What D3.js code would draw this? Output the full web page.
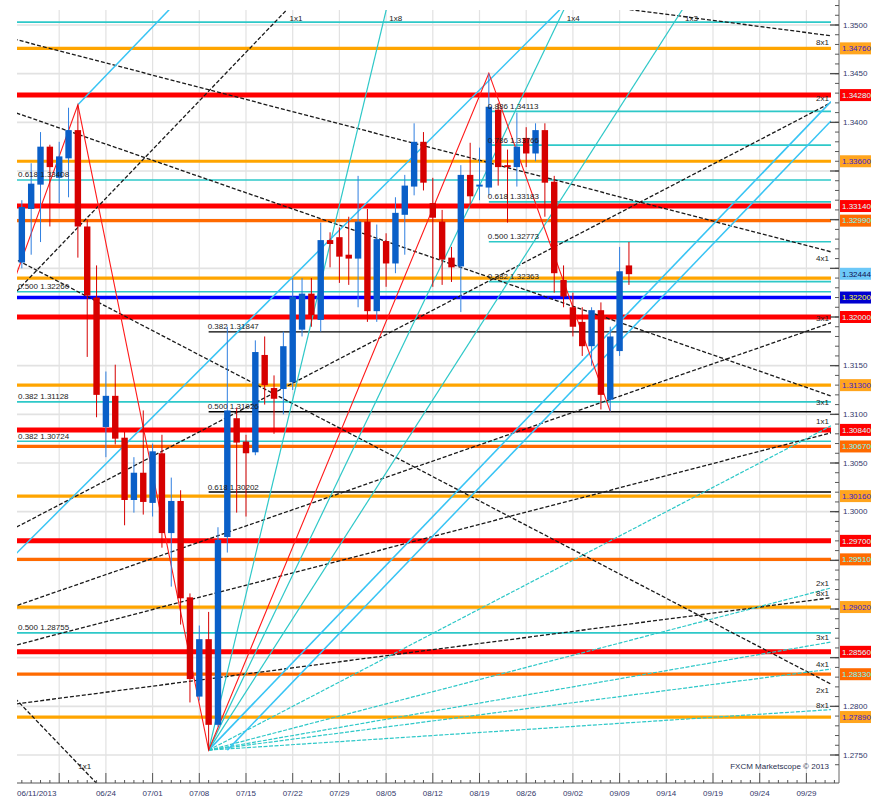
<!DOCTYPE html>
<html><head><meta charset="utf-8">
<script src="https://cdn.jsdelivr.net/npm/d3@7"></script>
<style>body{margin:0;background:#fff}</style>
</head><body>
<svg id="chart"></svg>
<script>
// daily candles [bar, open, high, low, close] ; bar 0 = monday 06/10/2013
const candles = [
  [1, 1.3256, 1.3320, 1.3250, 1.3313], [2, 1.3311, 1.3358, 1.3264, 1.3337],
  [3, 1.3336, 1.3390, 1.3277, 1.3375], [4, 1.3375, 1.3377, 1.3293, 1.3354],
  [5, 1.3343, 1.3380, 1.3317, 1.3365], [6, 1.3363, 1.3415, 1.3323, 1.3392],
  [7, 1.3392, 1.3418, 1.3261, 1.3293], [8, 1.3293, 1.3300, 1.3159, 1.3222],
  [9, 1.3220, 1.3253, 1.3097, 1.3120], [10, 1.3087, 1.3144, 1.3056, 1.3119],
  [11, 1.3119, 1.3151, 1.3069, 1.3075], [12, 1.3076, 1.3082, 1.2986, 1.3012],
  [13, 1.3012, 1.3056, 1.2999, 1.3040], [14, 1.3040, 1.3104, 1.2997, 1.3010],
  [15, 1.3009, 1.3070, 1.2995, 1.3062], [16, 1.3060, 1.3079, 1.2963, 1.2978],
  [17, 1.2978, 1.3035, 1.2923, 1.3011], [18, 1.3011, 1.3022, 1.2884, 1.2911],
  [19, 1.2912, 1.2916, 1.2804, 1.2828], [20, 1.2810, 1.2883, 1.2806, 1.2869],
  [21, 1.2869, 1.2897, 1.2755, 1.2781], [22, 1.2781, 1.2984, 1.2779, 1.2971],
  [23, 1.2974, 1.3190, 1.2958, 1.3104], [24, 1.3096, 1.3107, 1.2999, 1.3071],
  [25, 1.3072, 1.3079, 1.2995, 1.3060], [26, 1.3061, 1.3176, 1.3058, 1.3164],
  [27, 1.3161, 1.3180, 1.3110, 1.3130], [28, 1.3127, 1.3140, 1.3080, 1.3116],
  [29, 1.3126, 1.3185, 1.3100, 1.3170], [30, 1.3133, 1.3240, 1.3125, 1.3221],
  [31, 1.3187, 1.3240, 1.3180, 1.3224], [32, 1.3224, 1.3240, 1.3190, 1.3202],
  [33, 1.3197, 1.3297, 1.3185, 1.3279], [34, 1.3279, 1.3287, 1.3251, 1.3275],
  [35, 1.3282, 1.3292, 1.3235, 1.3262], [36, 1.3264, 1.3303, 1.3233, 1.3260],
  [37, 1.3260, 1.3345, 1.3210, 1.3298], [38, 1.3298, 1.3311, 1.3195, 1.3206],
  [39, 1.3206, 1.3295, 1.3195, 1.3280], [40, 1.3278, 1.3286, 1.3231, 1.3255],
  [41, 1.3255, 1.3323, 1.3245, 1.3307], [42, 1.3305, 1.3346, 1.3264, 1.3335],
  [43, 1.3334, 1.3399, 1.3325, 1.3380], [44, 1.3380, 1.3390, 1.3330, 1.3338],
  [45, 1.3317, 1.3343, 1.3231, 1.3302], [46, 1.3298, 1.3310, 1.3233, 1.3259],
  [47, 1.3261, 1.3272, 1.3236, 1.3251], [48, 1.3252, 1.3356, 1.3205, 1.3346],
  [49, 1.3346, 1.3379, 1.3313, 1.3324], [50, 1.3334, 1.3374, 1.3320, 1.3336],
  [51, 1.3333, 1.3450, 1.3325, 1.3416], [52, 1.3413, 1.3420, 1.3335, 1.3354],
  [53, 1.3356, 1.3372, 1.3297, 1.3354], [54, 1.3354, 1.3410, 1.3334, 1.3375],
  [55, 1.3384, 1.3395, 1.3354, 1.3368], [56, 1.3368, 1.3399, 1.3360, 1.3392],
  [57, 1.3392, 1.3399, 1.3303, 1.3338], [58, 1.3339, 1.3345, 1.3225, 1.3245],
  [59, 1.3238, 1.3253, 1.3210, 1.3221], [60, 1.3210, 1.3225, 1.3180, 1.3190],
  [61, 1.3195, 1.3210, 1.3160, 1.3170], [62, 1.3170, 1.3210, 1.3150, 1.3207],
  [63, 1.3207, 1.3215, 1.3105, 1.3120], [64, 1.3115, 1.3190, 1.3103, 1.3180],
  [65, 1.3165, 1.3272, 1.3160, 1.3247], [66, 1.3253, 1.3277, 1.3233, 1.3244]
];

const dateLabels = ["06/11/2013", "06/24", "07/01", "07/08", "07/15", "07/22", "07/29", "08/05",
  "08/12", "08/19", "08/26", "09/02", "09/09", "09/14", "09/19", "09/24", "09/29"];
const dateLabelBars = [1, 10, 15, 20, 25, 30, 35, 40, 45, 50, 55, 60, 65, 70, 75, 80, 85];

const priceTicks = [1.2750, 1.2800, 1.2850, 1.2900, 1.2950, 1.3000, 1.3050, 1.3100, 1.3150,
  1.3200, 1.3250, 1.3300, 1.3350, 1.3400, 1.3450, 1.3500];

// support / resistance levels with right hand tags
const levelPrices = [1.3476, 1.3428, 1.3360, 1.3314, 1.3299, 1.3240, 1.3220, 1.3200, 1.3130,
  1.3084, 1.3067, 1.3016, 1.2970, 1.2951, 1.2902, 1.2856, 1.2833, 1.2789];
const levelKinds = ["orange", "red", "orange", "red", "dorange", "orange", "blue", "red", "orange",
  "red", "dorange", "orange", "red", "dorange", "orange", "red", "dorange", "orange"];
const lastPrice = 1.32444;

// fibonacci retracements: [start bar, ratio, price]
const fibTeal = [[-5, "0.618", 1.33408], [-5, "0.500", 1.32260], [-5, "0.382", 1.31128],
  [-5, "0.382", 1.30724], [-5, "0.500", 1.28755],
  [51, "0.886", 1.34113], [51, "0.786", 1.33766], [51, "0.618", 1.33183], [51, "0.500", 1.32773], [51, "0.382", 1.32363]];
const fibBlack = [[21, "0.382", 1.31847], [21, "0.500", 1.31026], [21, "0.618", 1.30202]];
const extraTeal = [1.3503];

// gann fans : origin [bar, price], angle names, price per bar
const fanLowOrigin = [21, 1.2755];
const fanLowNames = ["1x8", "1x4", "1x3", "1x2", "1x1", "2x1", "3x1", "4x1", "8x1"];
const fanLowSlopes = [0.004, 0.002, 0.0015, 0.001, 0.0005, 0.00025, 0.0005 / 3, 0.000125, 0.0000625];
const fanDownOrigin = [-90, 1.3711];
const fanUpOrigin = [-48, 1.2742];
const fanNames = ["1x1", "2x1", "3x1", "4x1", "8x1"];
const fanSlopes = [0.001, 0.0005, 0.001 / 3, 0.00025, 0.000125];

// zigzag and light blue channel lines [start bar, start price, price per bar]
const zigzag = [[-2, 1.3180], [7, 1.3418], [21, 1.2755], [51, 1.34505], [64, 1.3103]];
const channel = [[7, 1.3418, 0.001], [-2, 1.2934, 0.00096], [23, 1.2755, 0.001]];

const W = 873, H = 801;
const pL = 17, pR = 831, pT = 10, pB = 783, axisX = 839;

const x = d3.scaleLinear().domain([0, 85]).range([12.5, 12.5 + 85 * 9.34]);
const y = d3.scaleLinear().domain([1.275, 1.35]).range([755, 25]);
const lastBar = x.invert(pR);

const colors = {red: "#ff0000", orange: "#ffa500", dorange: "#ff6a00", blue: "#0000ff",
  teal: "#2ec8c8", sky: "#38c4f4", up: "#0a5fc8", down: "#d60000"};
const tagStyle = {
  orange: ["#ffa51e", "#3a1ccc"], red: ["#ff0000", "#d8ffff"], dorange: ["#ff6a00", "#70ffff"],
  blue: ["#0000d0", "#ffff30"], last: ["#6cc8f8", "#101050"]
};
const lineWidth = {red: 5, orange: 3.2, dorange: 3.2, blue: 3.5};

const svg = d3.select("#chart")
  .attr("width", W)
  .attr("height", H)
  .style("font-family", "'Liberation Sans', Arial, sans-serif")
  .style("font-size", "8px");

svg.append("rect").attr("width", W).attr("height", H).attr("fill", "#fff");

const defs = svg.append("defs");
defs.append("clipPath").attr("id", "plot")
  .append("rect").attr("x", pL).attr("y", pT).attr("width", pR - pL).attr("height", pB - pT);
defs.append("clipPath").attr("id", "plotwide")
  .append("rect").attr("x", pL).attr("y", pT).attr("width", axisX - pL).attr("height", pB - pT);

// grid
const grid = svg.append("g").attr("clip-path", "url(#plotwide)");
grid.selectAll(".hg").data(priceTicks).join("line")
  .attr("x1", pL).attr("x2", axisX).attr("y1", d => y(d)).attr("y2", d => y(d))
  .attr("stroke", "#e2e2e2").attr("stroke-width", 1.6);
grid.selectAll(".vg").data(d3.range(5, 90, 5)).join("line")
  .attr("x1", d => x(d)).attr("x2", d => x(d)).attr("y1", pT).attr("y2", pB)
  .attr("stroke", "#e2e2e2").attr("stroke-width", 1.2);

const plot = svg.append("g").attr("clip-path", "url(#plot)");

// horizontal levels
plot.selectAll(".lvl").data(levelPrices).join("line")
  .attr("x1", pL).attr("x2", pR)
  .attr("y1", d => y(d)).attr("y2", d => y(d))
  .attr("stroke", (d, i) => colors[levelKinds[i]])
  .attr("stroke-width", (d, i) => lineWidth[levelKinds[i]]);

plot.selectAll(".xt").data(extraTeal).join("line")
  .attr("x1", pL).attr("x2", pR).attr("y1", d => y(d)).attr("y2", d => y(d))
  .attr("stroke", colors.teal).attr("stroke-width", 1.6);

// fibonacci lines
const fibG = plot.append("g");
fibG.selectAll(".ft").data(fibTeal).join("line")
  .attr("x1", d => Math.max(pL, x(d[0]))).attr("x2", pR)
  .attr("y1", d => y(d[2])).attr("y2", d => y(d[2]))
  .attr("stroke", colors.teal).attr("stroke-width", 1.6);
fibG.selectAll(".fb").data(fibBlack).join("line")
  .attr("x1", d => x(d[0])).attr("x2", pR)
  .attr("y1", d => y(d[2])).attr("y2", d => y(d[2]))
  .attr("stroke", "#000").attr("stroke-width", 1.4);

// fan lines
const fanLabels = [];
function fanLine(origin, slope, name, stroke, dash, sw, labelled) {
  const b0 = origin[0], p0 = origin[1];
  const pAt = b => p0 + slope * (b - b0);
  plot.append("line")
    .attr("x1", x(b0)).attr("y1", y(p0))
    .attr("x2", x(lastBar)).attr("y2", y(pAt(lastBar)))
    .attr("stroke", stroke).attr("stroke-width", sw)
    .attr("stroke-dasharray", dash);
  if (!labelled) return;
  const yEnd = y(pAt(lastBar));
  if (yEnd >= pT && yEnd <= pB) {
    fanLabels.push({x: pR - 2, y: slope > 0 ? yEnd - 2 : yEnd + 9, anchor: "end", text: name});
  } else if (yEnd < pT) {
    const b = b0 + (y.invert(pT) - p0) / slope;
    fanLabels.push({x: x(b) + 3, y: pT + 11, anchor: "start", text: name});
  } else {
    const b = b0 + (y.invert(pB) - p0) / slope;
    fanLabels.push({x: x(b) - 18, y: pB - 14, anchor: "start", text: name});
  }
}

fanNames.forEach((n, i) => fanLine(fanDownOrigin, -fanSlopes[i], n, "#1a1a1a", "4,2", 1.3, true));
fanNames.forEach((n, i) => fanLine(fanUpOrigin, fanSlopes[i], n, "#1a1a1a", "4,2", 1.3, n !== "4x1"));
fanLowNames.forEach((n, i) => {
  const steep = i < 3;
  const stroke = n === "1x2" ? colors.sky : colors.teal;
  fanLine(fanLowOrigin, fanLowSlopes[i], n, stroke, steep || n === "1x2" ? null : "4,1.5",
    n === "1x2" ? 1.6 : 1.2, n !== "1x2");
});

// light blue channel lines
channel.forEach(c => {
  const pAt = b => c[1] + c[2] * (b - c[0]);
  plot.append("line")
    .attr("x1", x(c[0])).attr("y1", y(c[1]))
    .attr("x2", x(lastBar)).attr("y2", y(pAt(lastBar)))
    .attr("stroke", colors.sky).attr("stroke-width", 1.5);
});

// zigzag
plot.append("path")
  .attr("d", d3.line().x(d => x(d[0])).y(d => y(d[1]))(zigzag))
  .attr("fill", "none").attr("stroke", "#ff1a1a").attr("stroke-width", 1.1);

// candles
const bw = 6.4;
const cg = plot.append("g");
cg.selectAll(".wick").data(candles).join("line")
  .attr("x1", d => x(d[0])).attr("x2", d => x(d[0]))
  .attr("y1", d => y(d[2])).attr("y2", d => y(d[3]))
  .attr("stroke", d => d[4] >= d[1] ? "#2f7fe0" : colors.down).attr("stroke-width", 1);
cg.selectAll(".body").data(candles).join("rect")
  .attr("x", d => x(d[0]) - bw / 2).attr("width", bw)
  .attr("y", d => y(Math.max(d[1], d[4])))
  .attr("height", d => Math.max(1.5, Math.abs(y(d[1]) - y(d[4]))))
  .attr("fill", d => d[4] >= d[1] ? colors.up : colors.down);

// fib labels
svg.append("g").selectAll("text").data(fibTeal.concat(fibBlack)).join("text")
  .attr("x", d => Math.max(pL + 1, x(d[0]) - 1)).attr("y", d => y(d[2]) - 2.5)
  .attr("fill", "#222").text(d => `${d[1]} ${d[2].toFixed(5)}`);

// fan labels
svg.append("g").selectAll("text").data(fanLabels).join("text")
  .attr("x", d => d.x).attr("y", d => d.y).attr("text-anchor", d => d.anchor)
  .attr("fill", "#222").text(d => d.text);

svg.append("text").attr("x", pR - 2).attr("y", 769).attr("text-anchor", "end")
  .attr("fill", "#2a3050").text("FXCM Marketscope © 2013");

// price tags
const tags = levelPrices.map((p, i) => ({p, kind: levelKinds[i], text: p.toFixed(5)}))
  .filter(d => d.p !== 1.3240)
  .concat([{p: lastPrice, kind: "last", text: lastPrice.toFixed(5)}]);

// right axis
const ax = svg.append("g");
ax.append("line").attr("x1", axisX).attr("x2", axisX).attr("y1", 0).attr("y2", pB)
  .attr("stroke", "#666");
ax.selectAll(".mt").data(d3.range(1.2740, 1.3526, 0.001)).join("line")
  .attr("x1", axisX - 4).attr("x2", axisX).attr("y1", d => y(d)).attr("y2", d => y(d))
  .attr("stroke", "#555");
ax.selectAll(".Mt").data(priceTicks).join("line")
  .attr("x1", axisX - 9).attr("x2", axisX).attr("y1", d => y(d)).attr("y2", d => y(d))
  .attr("stroke", "#444").attr("stroke-width", 1.2);
ax.selectAll(".tl").data(priceTicks.filter(t => tags.every(g => Math.abs(y(g.p) - y(t)) > 10))).join("text")
  .attr("x", axisX + 4).attr("y", d => y(d)).attr("dy", "0.35em")
  .attr("fill", "#33386a").text(d => d.toFixed(4));

const tg = svg.append("g").selectAll("g").data(tags).join("g")
  .attr("transform", d => `translate(${axisX + 1},${y(d.p)})`);
tg.append("rect").attr("x", 0).attr("y", -6).attr("width", 31).attr("height", 12)
  .attr("fill", d => tagStyle[d.kind][0]);
tg.append("text").attr("x", 2).attr("dy", "0.35em")
  .attr("fill", d => tagStyle[d.kind][1]).text(d => d.text);

// bottom axis
const bx = svg.append("g");
bx.append("line").attr("x1", pL).attr("x2", axisX).attr("y1", pB).attr("y2", pB)
  .attr("stroke", "#555");
bx.selectAll(".bt").data(d3.range(1, 89)).join("line")
  .attr("x1", d => x(d)).attr("x2", d => x(d))
  .attr("y1", d => d % 5 === 0 ? pB - 10 : pB - 3).attr("y2", pB)
  .attr("stroke", "#555");
bx.selectAll(".dl").data(dateLabels).join("text")
  .attr("x", (d, i) => i === 0 ? pL : x(dateLabelBars[i]))
  .attr("y", 796).attr("text-anchor", (d, i) => i === 0 ? "start" : "middle")
  .attr("fill", "#33386a").text(d => d);
</script>
</body></html>
